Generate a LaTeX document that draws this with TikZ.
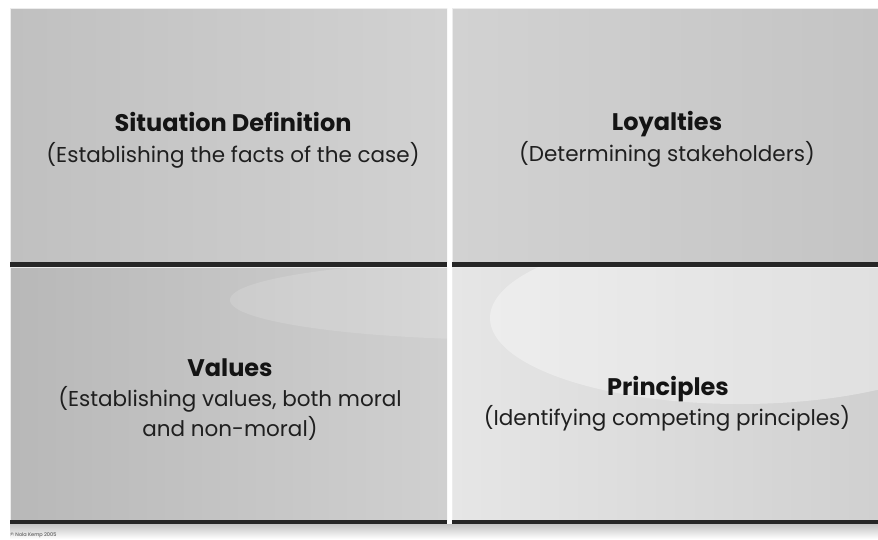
\documentclass[tikz,border=0pt]{standalone}
\usepackage{fontspec}
\setmainfont{Poppins}
\begin{document}
\begin{tikzpicture}[x=1pt, y=-1pt,
  heading/.style={anchor=base, text=black!92, font=\fontsize{24}{28}\selectfont\bfseries},
  subtitle/.style={anchor=base, text=black!88, align=center, font=\fontsize{21.5}{30}\selectfont}]
  % Define colors
  \definecolor{edgedark}{RGB}{38,38,38}
  \definecolor{bevel}{RGB}{236,236,236}

  \useasboundingbox (0,0) rectangle (878,539);

  % Panels (x1/y1/x2/y2/left shade/right shade)
  \foreach \xa/\ya/\xb/\yb/\lc/\rc in {10/8/447/262/192/210, 452/8/878/262/210/196,
                                        10/267/447/520/184/208, 452/267/878/520/230/208} {
    \definecolor{lshade}{RGB}{\lc,\lc,\lc}
    \definecolor{rshade}{RGB}{\rc,\rc,\rc}
    \shade[left color=lshade, right color=rshade] (\xa,\ya) rectangle (\xb,\yb);
    \draw[bevel, line width=1.2pt] (\xa+0.6,\yb) -- (\xa+0.6,\ya+0.6) -- (\xb,\ya+0.6);
    \fill[edgedark] (\xa,\yb) rectangle (\xb,\yb+4.5);
  }

  % Light swoosh across the lower panels
  \begin{scope}
    \clip (452,267) rectangle (878,520);
    \fill[white, opacity=0.35] (740,318) ellipse (250 and 86);
  \end{scope}
  \begin{scope}
    \clip (10,267) rectangle (447,520);
    \fill[white, opacity=0.15] (520,300) ellipse (290 and 40);
  \end{scope}

  % Reflection under the bottom row
  \shade[top color=gray!45, bottom color=white] (10,524.5) rectangle (878,539);

  % Texts
  \node[heading] (sitHead) at (233,131) {Situation Definition};
  \node[subtitle] (sitSub) at (233,162) {(Establishing the facts of the case)};

  \node[heading] (loyHead) at (667,130) {Loyalties};
  \node[subtitle] (loySub) at (667,161) {(Determining stakeholders)};

  \node[heading] (valHead) at (230,376) {Values};
  \node[subtitle, anchor=center] (valSub) at (230,413) {(Establishing values, both moral\\and non-moral)};

  \node[heading] (priHead) at (668,395) {Principles};
  \node[subtitle] (priSub) at (667,425) {(Identifying competing principles)};

  % Copyright
  \node[anchor=base west, inner sep=0pt, text=black!75, font=\fontsize{5}{6}\selectfont] (copy) at (10,536) {\textcopyright{} Nola Kemp 2005};
\end{tikzpicture}
\end{document}
